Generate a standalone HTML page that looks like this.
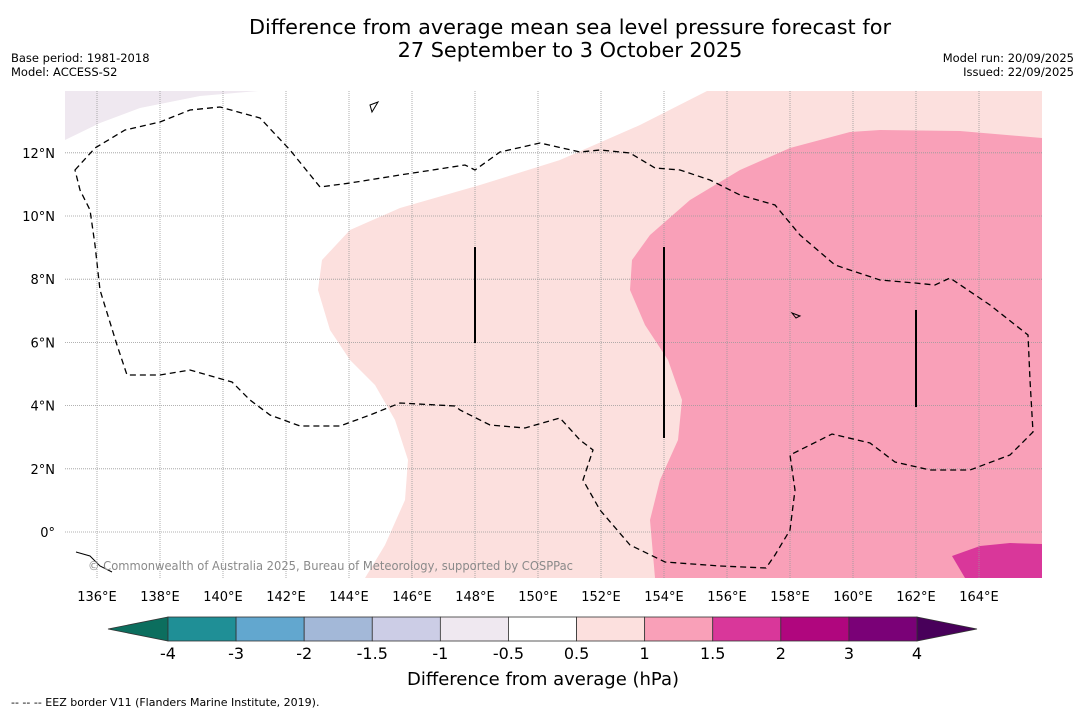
<!DOCTYPE html>
<html><head><meta charset="utf-8"><style>
body{margin:0;background:#fff;font-family:"DejaVu Sans","Liberation Sans",sans-serif;}
svg text{font-family:"DejaVu Sans","Liberation Sans",sans-serif;}
</style></head><body>
<svg id="s" width="1085" height="713" xmlns="http://www.w3.org/2000/svg">
<text x="570" y="34" font-size="20.8" text-anchor="middle" textLength="642">Difference from average mean sea level pressure forecast for</text>
<text x="570" y="57" font-size="20.8" text-anchor="middle">27 September to 3 October 2025</text>
<text x="11" y="62" font-size="11.5">Base period: 1981-2018</text>
<text x="11" y="76" font-size="11.5">Model: ACCESS-S2</text>
<text x="1074" y="62" font-size="11.5" text-anchor="end">Model run: 20/09/2025</text>
<text x="1074" y="76" font-size="11.5" text-anchor="end">Issued: 22/09/2025</text>
<defs><clipPath id="mc"><rect x="65" y="91" width="977" height="487"/></clipPath></defs>
<g clip-path="url(#mc)">
<path fill="#efe8f0" d="M65,91 L258,91 L200,96 L140,108 L100,123 L65,140Z"/>
<path fill="#fce0de" d="M707,91 L640,125 L560,160 L480,185 L400,208 L350,230 L322,260 L318,290 L330,330 L350,360 L375,385 L395,420 L408,460 L405,500 L385,545 L365,578 L1042,578 L1042,91Z"/>
<path fill="#f9a0b8" d="M1042,138 L960,131 L880,130 L850,132 L790,148 L740,170 L690,200 L650,235 L632,260 L630,290 L645,325 L668,360 L682,400 L678,440 L660,480 L650,520 L655,578 L1042,578Z"/>
<path fill="#d9379a" d="M952,556 L980,546 L1010,543 L1042,544 L1042,578 L965,578Z"/>
<g id="grid"></g>
<path fill="none" stroke="#000" stroke-width="1.3" stroke-dasharray="6,4" d="M75,170 L95,148 L125,130 L160,122 L190,110 L220,107 L260,118 L290,150 L320,187 L350,183 L400,175 L465,165 L475,170 L500,152 L540,143 L580,152 L600,150 L630,153 L655,168 L680,170 L710,180 L740,195 L775,205 L800,235 L835,265 L880,280 L915,283 L935,285 L950,278 L990,305 L1028,335 L1030,380 L1033,432 L1010,455 L970,470 L930,470 L895,462 L870,443 L832,434 L800,450 L790,455 L795,490 L790,530 L775,555 L766,568 L720,566 L665,562 L630,545 L600,510 L583,480 L593,450 L580,440 L560,418 L525,428 L490,425 L460,410 L455,406 L400,403 L370,415 L340,426 L300,426 L270,415 L250,400 L232,382 L190,370 L160,375 L127,375 L117,345 L100,290 L95,245 L90,210 L80,190 Z"/>
<g stroke="#000" stroke-width="2">
<line x1="475" y1="247" x2="475" y2="343"/><line x1="664" y1="247" x2="664" y2="438"/><line x1="916" y1="310" x2="916" y2="407"/></g>
<path fill="none" stroke="#000" stroke-width="1" d="M76,552 L90,556 L100,566 L112,572 M370,105 L378,102 L372,112Z M792,313 L800,316 L796,318Z"/>
<text x="88" y="570" font-size="12" fill="#8a8a8a" textLength="485" lengthAdjust="spacingAndGlyphs">© Commonwealth of Australia 2025, Bureau of Meteorology, supported by COSPPac</text>
</g>
<g id="ticks"></g>
<g id="cbar"></g>
<text x="543" y="685" font-size="18" text-anchor="middle">Difference from average (hPa)</text>
<text x="11" y="706" font-size="11">--  --  -- EEZ border V11 (Flanders Marine Institute, 2019).</text>
</svg>
<script>
const lonTicks=[136,138,140,142,144,146,148,150,152,154,156,158,160,162,164];
const latTicks=[0,2,4,6,8,10,12];
const levelLabels=["-4","-3","-2","-1.5","-1","-0.5","0.5","1","1.5","2","3","4"];
const levelColors=["#1f8f96","#62a7cf","#a3b8d8","#cccde6","#efe8f0","#ffffff","#fce0de","#f9a0b8","#d9379a","#b0067e","#7a0177"];
const NS="http://www.w3.org/2000/svg";
const X=lon=>97+(lon-136)*31.5, Y=lat=>532-lat*31.6;
function mk(t,a,p){const e=document.createElementNS(NS,t);for(const k in a)e.setAttribute(k,a[k]);p.appendChild(e);return e;}
const g=document.getElementById('grid'),tk=document.getElementById('ticks'),cb=document.getElementById('cbar');
lonTicks.forEach(l=>{
 const ln=mk('line',{x1:X(l),x2:X(l),y1:91,y2:578,stroke:'#999','stroke-width':0.8,'stroke-dasharray':'1,1'},g);
 
 
 const t=mk('text',{x:X(l),y:601,'font-size':13,'text-anchor':'middle'},tk);t.textContent=l+'°E';
 
 
});
latTicks.forEach(l=>{
 const ln=mk('line',{x1:65,x2:1042,y1:Y(l),y2:Y(l),stroke:'#999','stroke-width':0.8,'stroke-dasharray':'1,1'},g);
 
 
 const t=mk('text',{x:55,y:Y(l)+5,'font-size':13,'text-anchor':'end'},tk);t.textContent=(l===0?'0°':l+'°N');
 
 
});
const x0=168,x1=917,w=(x1-x0)/levelColors.length,y0=617,y1=641;
const lt=mk('polygon',{points:`${x0},${y0} 108,629 ${x0},${y1}`,fill:'#0c6e5e',stroke:'#333','stroke-width':0.8},cb);


const rt=mk('polygon',{points:`${x1},${y0} 977,629 ${x1},${y1}`,fill:'#48005a',stroke:'#333','stroke-width':0.8},cb);


levelColors.forEach((c,i)=>{
 const r=mk('rect',{x:x0+i*w,y:y0,width:w,height:y1-y0,fill:c,stroke:'#333','stroke-width':0.8},cb);
 
 
});
levelLabels.forEach((s,i)=>{
 const t=mk('text',{x:x0+i*w,y:659,'font-size':16,'text-anchor':'middle'},cb);t.textContent=s;
 
 
});
</script>
</body></html>
